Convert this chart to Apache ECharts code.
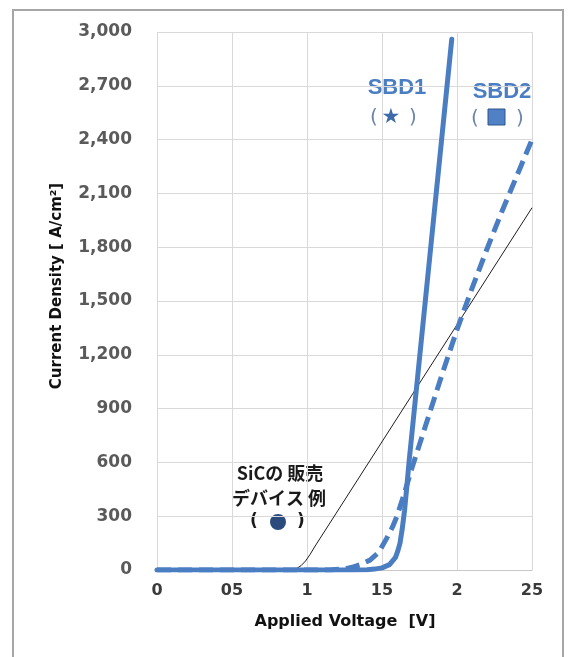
<!DOCTYPE html>
<html>
<head>
<meta charset="utf-8">
<script src="https://cdn.jsdelivr.net/npm/echarts@6/dist/echarts.min.js"></script>
<style>
  html, body { margin: 0; padding: 0; background: #fff; }
  #chart { width: 569px; height: 657px; }
</style>
</head>
<body>
<div id="chart"></div>
<script>
// 轴刻度文字（原图 x 轴缺小数点，照抄）
var xTickLabels = ['0', '05', '1', '15', '2', '25'];
var yTickLabels = ['0', '300', '600', '900', '1,200', '1,500', '1,800', '2,100', '2,400', '2,700', '3,000'];

// SiC 市售器件例（细黑线）
var sicV = [0, 0.9, 0.93, 0.96, 0.99, 1.02, 1.05, 2.5];
var sicJ = [0, 0, 8, 24, 50, 86, 128, 2020];

// SBD1（实线）
var sbd1V = [0, 1.3, 1.4, 1.45, 1.5, 1.55, 1.59, 1.605, 1.62, 1.635, 1.65, 1.665, 1.68, 1.965];
var sbd1J = [0, 0, 2, 5, 12, 30, 70, 105, 150, 230, 330, 460, 600, 2960];

// SBD2（虚线）
var sbd2V = [0, 1.15, 1.25, 1.3, 1.35, 1.42, 1.48, 1.53, 1.57, 1.6, 1.65, 1.7, 1.8, 1.9, 2.0, 2.1, 2.2, 2.3, 2.4, 2.5];
var sbd2J = [0, 0, 6, 15, 28, 55, 100, 175, 240, 300, 430, 570, 830, 1090, 1340, 1570, 1790, 2000, 2200, 2400];

function pairs(xs, ys) {
  return xs.map(function (x, i) { return [x, ys[i]]; });
}

var blue = '#4a7dc2';
var font = 'DejaVu Sans';

var chart = echarts.init(document.getElementById('chart'), null, { renderer: 'canvas' });

chart.setOption({
  animation: false,
  backgroundColor: '#fff',
  grid: { left: 157, right: 37, top: 32, bottom: 87 },
  xAxis: {
    type: 'value', min: 0, max: 2.5, interval: 0.5,
    axisLine: { show: true, lineStyle: { color: '#c8c8c8', width: 1 } },
    axisTick: { show: false },
    splitLine: { show: true, lineStyle: { color: '#d9d9d9', width: 1 } },
    axisLabel: {
      margin: 13, color: '#3a3a3a', fontFamily: font, fontWeight: 'bold', fontSize: 16,
      formatter: function (v) { return xTickLabels[Math.round(v / 0.5)]; }
    }
  },
  yAxis: {
    type: 'value', min: 0, max: 3000, interval: 300,
    axisLine: { show: false },
    axisTick: { show: false },
    splitLine: { show: true, lineStyle: { color: '#d9d9d9', width: 1 } },
    axisLabel: {
      margin: 25, color: '#5a5a5a', fontFamily: font, fontWeight: 'bold', fontSize: 17,
      formatter: function (v) { return yTickLabels[Math.round(v / 300)]; }
    }
  },
  series: [
    {
      name: 'SiC', type: 'line', showSymbol: false, symbol: 'none',
      data: pairs(sicV, sicJ),
      lineStyle: { color: '#1e1e1e', width: 1 }, z: 3
    },
    {
      name: 'SBD2', type: 'line', showSymbol: false, symbol: 'none',
      data: pairs(sbd2V, sbd2J),
      lineStyle: { color: blue, width: 5, type: [14, 7] }, z: 4
    },
    {
      name: 'SBD1', type: 'line', showSymbol: false, symbol: 'none',
      data: pairs(sbd1V, sbd1J),
      lineStyle: { color: blue, width: 5, join: 'round', cap: 'round' }, z: 5
    }
  ],
  graphic: [
    // 外框
    { type: 'rect', shape: { x: 13, y: 10, width: 550, height: 660 },
      style: { fill: 'none', stroke: '#a6a6a6', lineWidth: 2 }, silent: true },
    // 轴标题
    { type: 'text', x: 57, y: 286, rotation: Math.PI / 2,
      style: { text: 'Current Density [ A/cm²]', fill: '#111', font: 'bold 15px "DejaVu Sans"',
        align: 'center', verticalAlign: 'middle' } },
    { type: 'text', x: 345, y: 622,
      style: { text: 'Applied Voltage  [V]', fill: '#111', font: 'bold 16px "DejaVu Sans"',
        align: 'center', verticalAlign: 'middle' } },
    // SBD1 标注
    { type: 'text', x: 397, y: 88,
      style: { text: 'SBD1', fill: blue, font: 'bold 22px "Liberation Sans"', align: 'center', verticalAlign: 'middle' } },
    { type: 'text', x: 374, y: 118,
      style: { text: '(', fill: '#6d86a8', font: '20px "DejaVu Sans"', align: 'center', verticalAlign: 'middle' } },
    { type: 'text', x: 391, y: 118,
      style: { text: '★', fill: '#3d6aa8', font: '21px "DejaVu Sans"', align: 'center', verticalAlign: 'middle' } },
    { type: 'text', x: 413, y: 118,
      style: { text: ')', fill: '#6d86a8', font: '20px "DejaVu Sans"', align: 'center', verticalAlign: 'middle' } },
    // SBD2 标注
    { type: 'text', x: 502, y: 92,
      style: { text: 'SBD2', fill: blue, font: 'bold 22px "Liberation Sans"', align: 'center', verticalAlign: 'middle' } },
    { type: 'text', x: 475, y: 119,
      style: { text: '(', fill: '#6d86a8', font: '20px "DejaVu Sans"', align: 'center', verticalAlign: 'middle' } },
    { type: 'rect', shape: { x: 488, y: 109, width: 17, height: 16 },
      style: { fill: '#4f81c4', stroke: '#2f5590', lineWidth: 1 } },
    { type: 'text', x: 520, y: 119,
      style: { text: ')', fill: '#6d86a8', font: '20px "DejaVu Sans"', align: 'center', verticalAlign: 'middle' } },
    // SiC 标注
    { type: 'text', x: 280, y: 473,
      style: { text: 'SiCの 販売', fill: '#1a1a1a', font: 'bold 18px "Noto Sans CJK JP"', align: 'center', verticalAlign: 'middle' } },
    { type: 'text', x: 279, y: 498,
      style: { text: 'デバイス 例', fill: '#1a1a1a', font: 'bold 18px "Noto Sans CJK JP"', align: 'center', verticalAlign: 'middle' } },
    { type: 'text', x: 254, y: 522,
      style: { text: '(', fill: '#1a1a1a', font: 'bold 17px "DejaVu Sans"', align: 'center', verticalAlign: 'middle' } },
    { type: 'circle', shape: { cx: 278, cy: 522, r: 8 }, style: { fill: '#2b4b7c' } },
    { type: 'text', x: 301, y: 522,
      style: { text: ')', fill: '#1a1a1a', font: 'bold 17px "DejaVu Sans"', align: 'center', verticalAlign: 'middle' } }
  ]
});
</script>
</body>
</html>
